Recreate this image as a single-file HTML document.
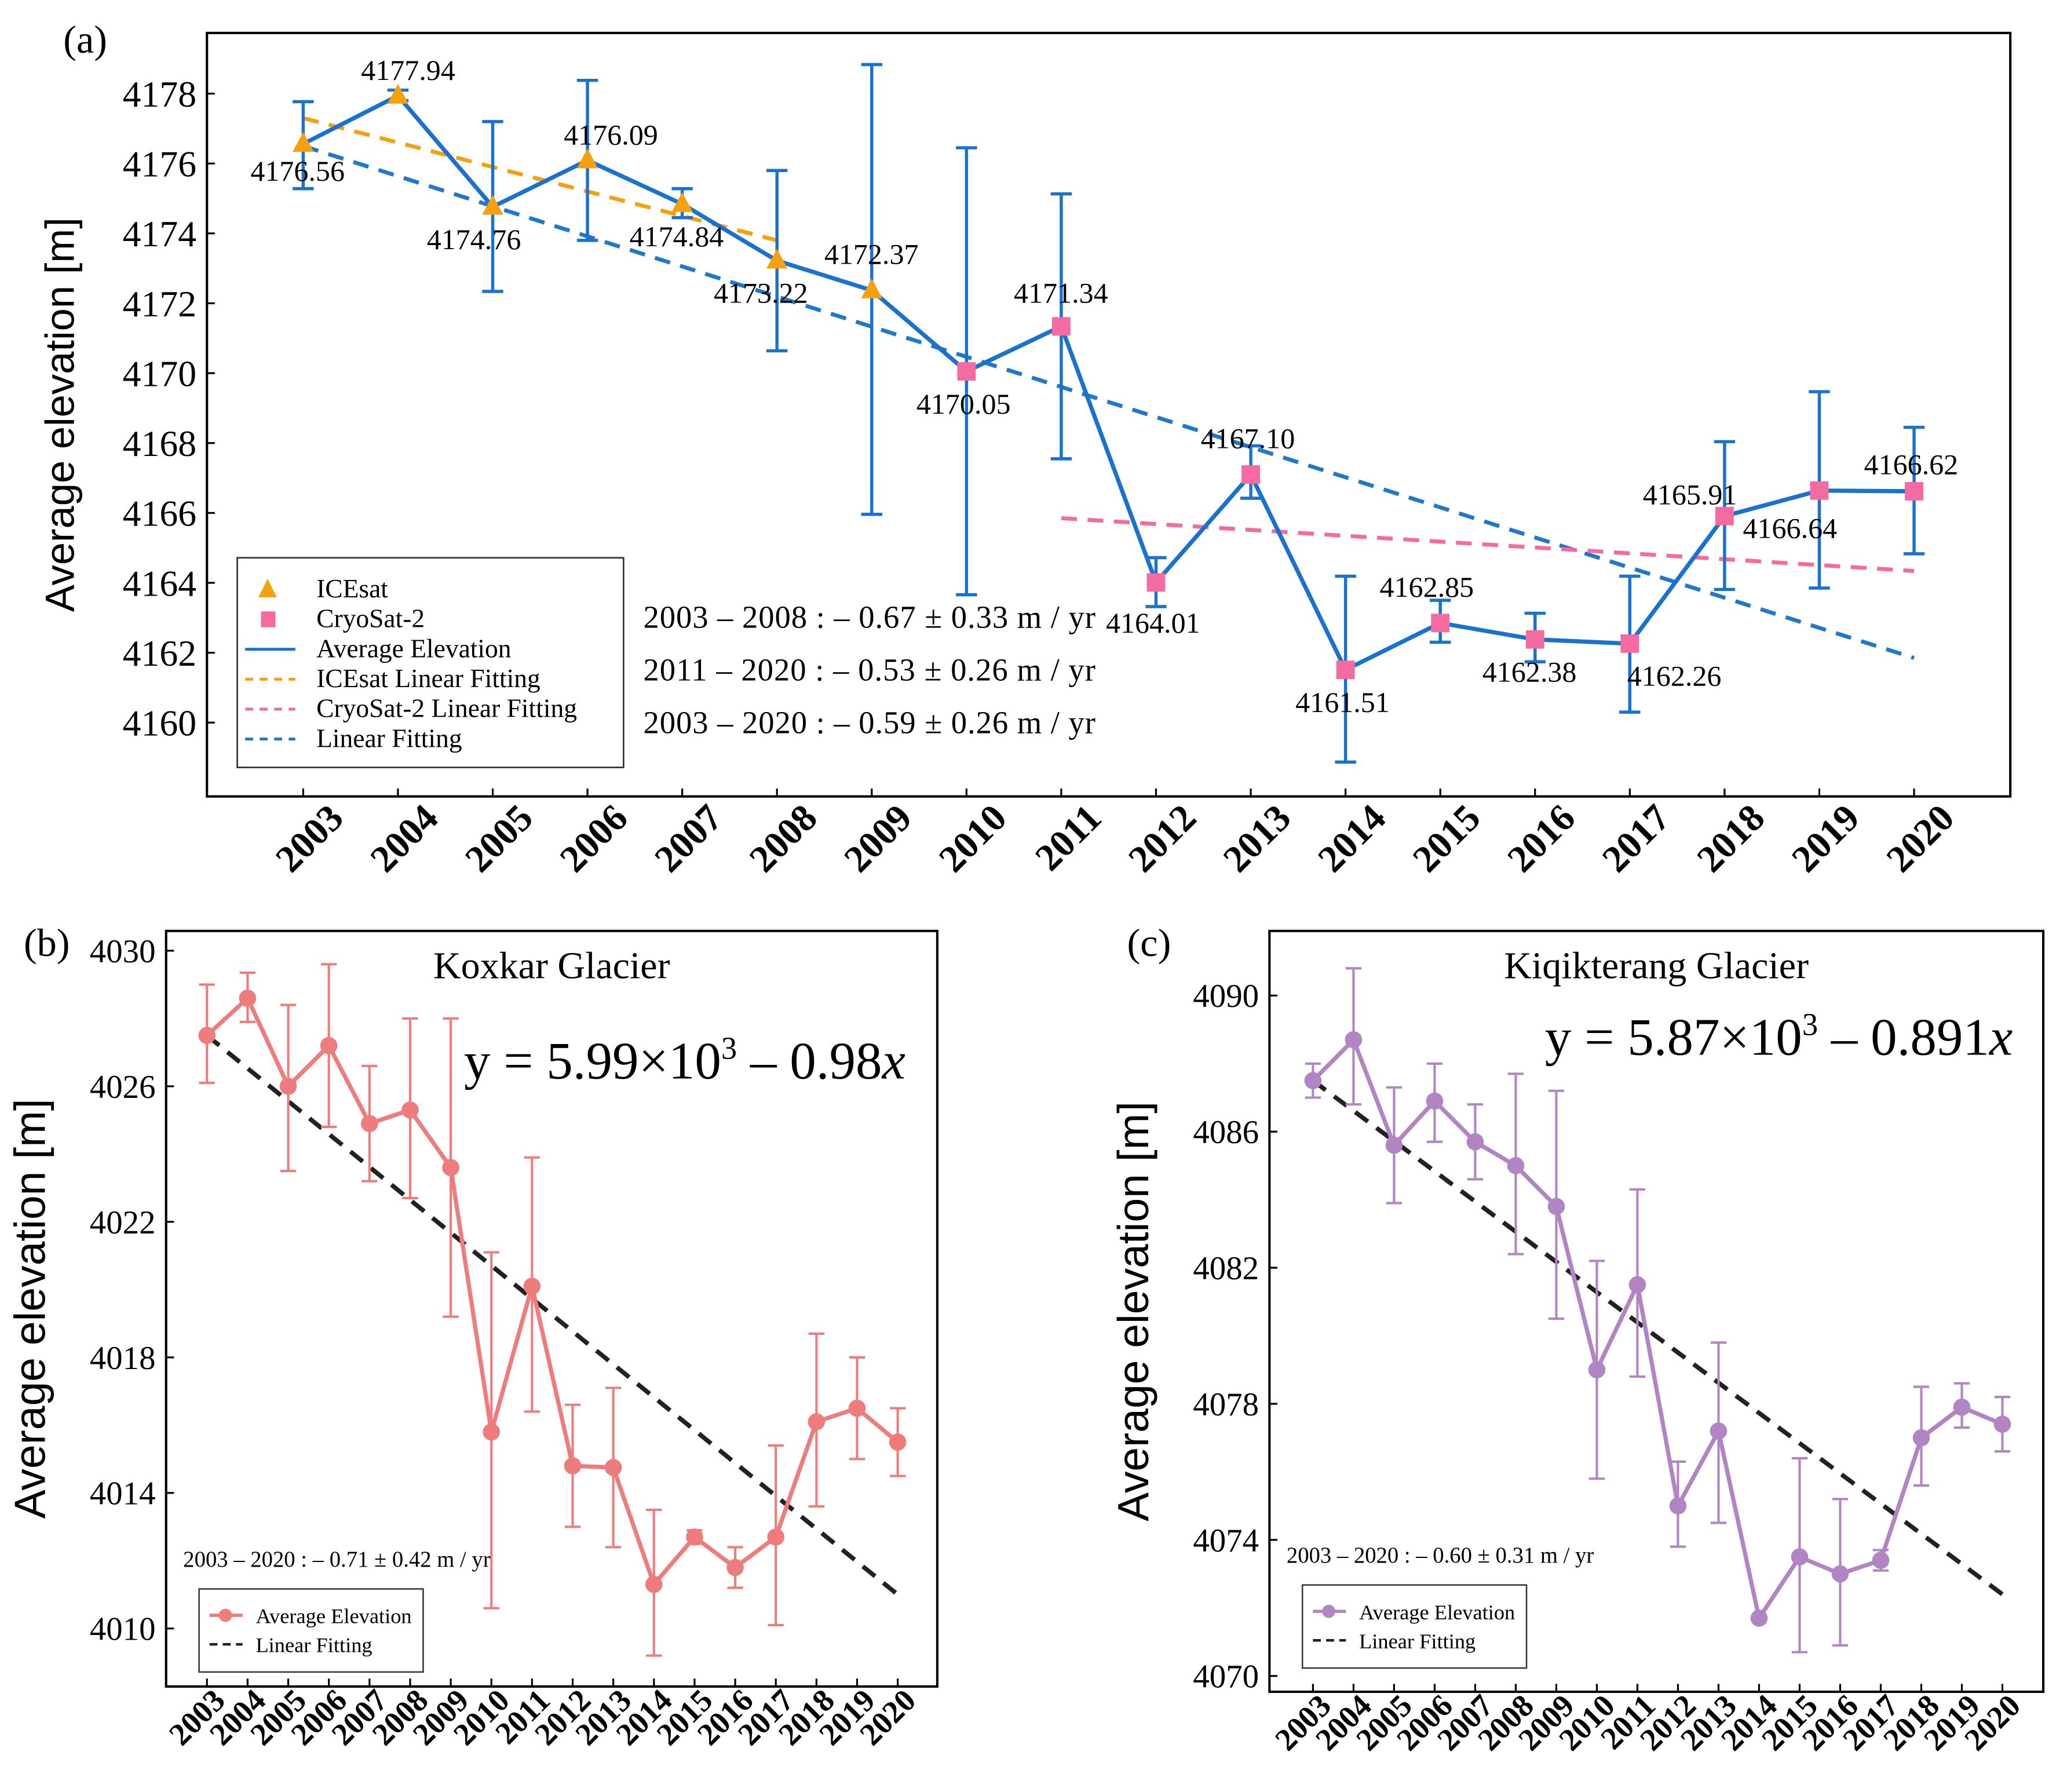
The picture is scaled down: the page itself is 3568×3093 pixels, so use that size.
<!DOCTYPE html>
<html><head><meta charset="utf-8"><style>
html,body{margin:0;padding:0;background:#fff}
svg{display:block;font-family:"Liberation Serif",serif}
</style></head><body>
<svg id="fig" width="3568" height="3093" viewBox="0 0 1568 1359" preserveAspectRatio="none" xmlns="http://www.w3.org/2000/svg"></svg>
<script>
const years=[2003,2004,2005,2006,2007,2008,2009,2010,2011,2012,2013,2014,2015,2016,2017,2018,2019,2020];
const aVals=[4176.56,4177.94,4174.76,4176.09,4174.84,4173.22,4172.37,4170.05,4171.34,4164.01,4167.10,4161.51,4162.85,4162.38,4162.26,4165.91,4166.64,4166.62];
const aHi=[4177.77,4178.1,4177.2,4178.38,4175.28,4175.8,4178.83,4176.45,4175.13,4164.72,4167.92,4164.19,4163.5,4163.13,4164.19,4168.04,4169.47,4168.45];
const aLo=[4175.28,4177.8,4172.34,4173.8,4174.45,4170.64,4165.96,4163.66,4167.55,4163.32,4166.42,4158.87,4162.3,4161.74,4160.3,4163.81,4163.85,4164.83];
const aTicks=[4160,4162,4164,4166,4168,4170,4172,4174,4176,4178];
const fitIce=[[2003,4177.3],[2008,4173.8]];
const fitCryo=[[2011,4165.85],[2020,4164.34]];
const fitAll=[[2003,4176.5],[2020,4161.85]];
const bVals=[4027.5,4028.6,4026.0,4027.2,4024.9,4025.3,4023.6,4015.8,4020.1,4014.8,4014.75,4011.3,4012.7,4011.8,4012.7,4016.1,4016.5,4015.5];
const bHi=[4029.0,4029.35,4028.4,4029.6,4026.6,4028.0,4028.0,4021.1,4023.9,4016.6,4017.1,4013.5,4012.9,4012.4,4015.4,4018.7,4018.0,4016.5];
const bLo=[4026.1,4027.9,4023.5,4024.8,4023.2,4022.7,4019.2,4010.6,4016.4,4013.0,4012.4,4009.2,4012.5,4011.2,4010.1,4013.6,4015.0,4014.5];
const bTicks=[4010,4014,4018,4022,4026,4030];
const bFit=[[2003,4027.5],[2020,4011.0]];
const cVals=[4087.5,4088.7,4085.6,4086.9,4085.7,4085.0,4083.8,4079.0,4081.5,4075.0,4077.2,4071.7,4073.5,4073.0,4073.4,4077.0,4077.9,4077.4];
const cHi=[4088.0,4090.8,4087.3,4088.0,4086.8,4087.7,4087.2,4082.2,4084.3,4076.3,4079.8,4071.7,4076.4,4075.2,4073.7,4078.5,4078.6,4078.2];
const cLo=[4087.0,4086.8,4083.9,4085.7,4084.6,4082.4,4080.5,4075.8,4078.8,4073.8,4074.5,4071.7,4070.7,4070.9,4073.1,4075.6,4077.3,4076.6];
const cTicks=[4070,4074,4078,4082,4086,4090];
const cFit=[[2003,4087.5],[2020,4072.4]];

const NS="http://www.w3.org/2000/svg";
const svg=document.getElementById('fig');
function mk(tag,attrs,parent,text){const e=document.createElementNS(NS,tag);for(const k in attrs)e.setAttribute(k,attrs[k]);if(text!==undefined)e.textContent=text;(parent||svg).appendChild(e);return e;}
function scale(d0,d1,r0,r1){return v=>r0+(v-d0)*(r1-r0)/(d1-d0);}

function panel(o){
  const g=mk('g',{});
  
  
  const X=scale(2003,2020,o.x0,o.x1), Y=scale(o.yA,o.yB,o.pyA,o.pyB);
  const fr=mk('rect',{x:o.L,y:o.T,width:o.R-o.L,height:o.B-o.T,fill:'none',stroke:'#000','stroke-width':1.8},g);
  
  o.ticks.forEach(t=>{const y=Y(t);
    mk('line',{x1:o.L,x2:o.L+6,y1:y,y2:y,stroke:'#000','stroke-width':1.4},g);
    const tl=mk('text',{x:o.L-8,y:y+o.tf*0.35,'text-anchor':'end','font-size':o.tf},g,String(t));
    });
  years.forEach(yr=>{const x=X(yr);
    mk('line',{x1:x,x2:x,y1:o.B,y2:o.B-6,stroke:'#000','stroke-width':1.4},g);
    const tl=mk('text',{transform:`translate(${x+o.xo},${o.B+o.xd}) rotate(-45)`,'text-anchor':'end','font-size':o.xf,'font-weight':o.xw},g,String(yr));
    });
  const yt=mk('text',{transform:`translate(${o.ytx},${(o.T+o.B)/2}) rotate(-90)`,'text-anchor':'middle','font-size':o.ytf,'font-family':'"Liberation Sans",sans-serif'},g,'Average elevation [m]');
  
  return {g,X,Y};
}
function fitLine(g,X,Y,f,color,w,dash,name){const l=mk('line',{x1:X(f[0][0]),y1:Y(f[0][1]),x2:X(f[1][0]),y2:Y(f[1][1]),stroke:color,'stroke-width':w,'stroke-dasharray':dash},g);
  }
function errs(g,X,Y,hi,lo,color,w,cap,name){years.forEach((yr,i)=>{const x=X(yr);
  const e=mk('path',{d:`M${x},${Y(hi[i])}V${Y(lo[i])}M${x-cap},${Y(hi[i])}h${2*cap}M${x-cap},${Y(lo[i])}h${2*cap}`,stroke:color,'stroke-width':w,fill:'none'},g);
  });}
function series(g,X,Y,vals,color,w,name){const l=mk('polyline',{points:vals.map((v,i)=>X(years[i])+','+Y(v)).join(' '),fill:'none',stroke:color,'stroke-width':w,'stroke-linejoin':'round'},g);
  }

// Panel (a)
const A=panel({name:'panel-a',L:157,R:1525,T:25,B:604,x0:230,x1:1452,yA:4178,yB:4160,pyA:71,pyB:548,ticks:aTicks,tf:28,xf:29,xw:'bold',xo:32,xd:18,ytx:56,ytf:31});
mk('text',{x:48,y:40,'font-size':30},A.g,'(a)');
fitLine(A.g,A.X,A.Y,fitAll,'#1f77d0',3,'12,8','fit-all');
fitLine(A.g,A.X,A.Y,fitIce,'#f5a00f',3,'12,8','fit-icesat');
fitLine(A.g,A.X,A.Y,fitCryo,'#f76aa0',3,'12,8','fit-cryosat');
errs(A.g,A.X,A.Y,aHi,aLo,'#1a72cf',2.4,8,'error-bar');
series(A.g,A.X,A.Y,aVals,'#1a72cf',3.2,'average-elevation-line');
aVals.forEach((v,i)=>{const x=A.X(years[i]),y=A.Y(v);let m;
  if(years[i]<=2009){m=mk('path',{d:`M${x},${y-9}L${x+8},${y+6}L${x-8},${y+6}Z`,fill:'#f5a00f'},A.g);}
  else{m=mk('rect',{x:x-7,y:y-7,width:14,height:14,fill:'#f36ba0'},A.g);}
  });
const aLabOff=[[-40,28],[-28,-12],[-50,32],[-18,-12],[-40,32],[-48,32],[-36,-20],[-38,32],[-36,-18],[-38,38],[-38,-20],[-38,32],[-46,-20],[-40,32],[-2,32],[-62,-9],[-58,36],[-38,-13]];
aVals.forEach((v,i)=>{const t=mk('text',{x:A.X(years[i])+aLabOff[i][0],y:A.Y(v)+aLabOff[i][1],'font-size':22},A.g,v.toFixed(2));
  });
const ann=['2003 – 2008 : – 0.67 ± 0.33 m / yr','2011 – 2020 : – 0.53 ± 0.26 m / yr','2003 – 2020 : – 0.59 ± 0.26 m / yr'];
ann.forEach((s,i)=>{const t=mk('text',{x:488,y:476+i*40,'font-size':24,textLength:343},A.g,s);});
const lg=mk('g',{},A.g);
mk('rect',{x:180,y:423,width:293,height:159,fill:'#fff',stroke:'#333','stroke-width':1.2},lg);
const li=['ICEsat','CryoSat-2','Average Elevation','ICEsat Linear Fitting','CryoSat-2 Linear Fitting','Linear Fitting'];
li.forEach((s,i)=>{const y=447+i*22.7;
  if(i==0)mk('path',{d:`M203,${y-8}L210,${y+6}L196,${y+6}Z`,fill:'#f5a00f'},lg);
  else if(i==1)mk('rect',{x:198,y:y-6,width:11,height:12,fill:'#f36ba0'},lg);
  else mk('line',{x1:186,x2:224,y1:y,y2:y,stroke:['#1a72cf','#f5a00f','#f76aa0','#1f77d0'][i-2],'stroke-width':2.2,'stroke-dasharray':i==2?'none':'6,5'},lg);
  const t=mk('text',{x:240,y:y+6,'font-size':20},lg,s);});

// Panels (b) and (c)
function small(o){
  const P=panel({name:o.name,L:o.L,R:o.R,T:706,B:o.B,x0:o.x0,x1:o.x1,yA:o.yA,yB:o.yB,pyA:o.pyA,pyB:o.pyB,ticks:o.ticks,tf:25,xf:24,xw:'bold',xo:15,xd:12,ytx:o.L-92,ytf:33});
  mk('text',{x:o.L-108,y:725,'font-size':30},P.g,o.lab);
  const tt=mk('text',{x:(o.L+o.R)/2,y:742,'text-anchor':'middle','font-size':29},P.g,o.title);
  const eq=mk('text',{x:o.eqx,y:o.eqy,'font-size':40},P.g);
  mk('tspan',{},eq,o.eq1);mk('tspan',{dy:-15,'font-size':24},eq,'3');mk('tspan',{dy:15},eq,' – '+o.eq2);mk('tspan',{'font-style':'italic'},eq,'x');
  fitLine(P.g,P.X,P.Y,o.fit,'#222',3.4,'12,8','fit-line');
  errs(P.g,P.X,P.Y,o.hi,o.lo,o.color,1.8,6,'error-bar');
  series(P.g,P.X,P.Y,o.vals,o.color,3.2,'average-elevation-line');
  o.vals.forEach((v,i)=>{const c=mk('circle',{cx:P.X(years[i]),cy:P.Y(v),r:6.5,fill:o.color},P.g);});
  const r=mk('text',{x:o.L+13,y:o.ry,'font-size':17},P.g,o.rate);
  const lg=mk('g',{},P.g);
  mk('rect',{x:o.L+25,y:o.ry+17,width:170,height:63,fill:'#fff',stroke:'#333','stroke-width':1.1},lg);
  mk('line',{x1:o.L+33,x2:o.L+58,y1:o.ry+37,y2:o.ry+37,stroke:o.color,'stroke-width':2.5},lg);
  mk('circle',{cx:o.L+45,cy:o.ry+37,r:5,fill:o.color},lg);
  mk('line',{x1:o.L+33,x2:o.L+58,y1:o.ry+59,y2:o.ry+59,stroke:'#222','stroke-width':2,'stroke-dasharray':'6,4'},lg);
  mk('text',{x:o.L+68,y:o.ry+43,'font-size':16},lg,'Average Elevation');
  mk('text',{x:o.L+68,y:o.ry+65,'font-size':16},lg,'Linear Fitting');
}
small({name:'panel-b',lab:'(b)',L:126,R:711,B:1279,x0:157,x1:681,yA:4030,yB:4010,pyA:721,pyB:1235,ticks:bTicks,title:'Koxkar Glacier',eqx:352,eqy:818,eq1:'y = 5.99×10',eq2:'0.98',fit:bFit,hi:bHi,lo:bLo,vals:bVals,color:'#ef7c7c',ry:1188,rate:'2003 – 2020 : – 0.71 ± 0.42 m / yr'});
small({name:'panel-c',lab:'(c)',L:963,R:1550,B:1283,x0:996,x1:1519,yA:4090,yB:4070,pyA:755,pyB:1271,ticks:cTicks,title:'Kiqikterang Glacier',eqx:1172,eqy:800,eq1:'y = 5.87×10',eq2:'0.891',fit:cFit,hi:cHi,lo:cLo,vals:cVals,color:'#b185c4',ry:1185,rate:'2003 – 2020 : – 0.60 ± 0.31 m / yr'});
</script>
</body></html>
